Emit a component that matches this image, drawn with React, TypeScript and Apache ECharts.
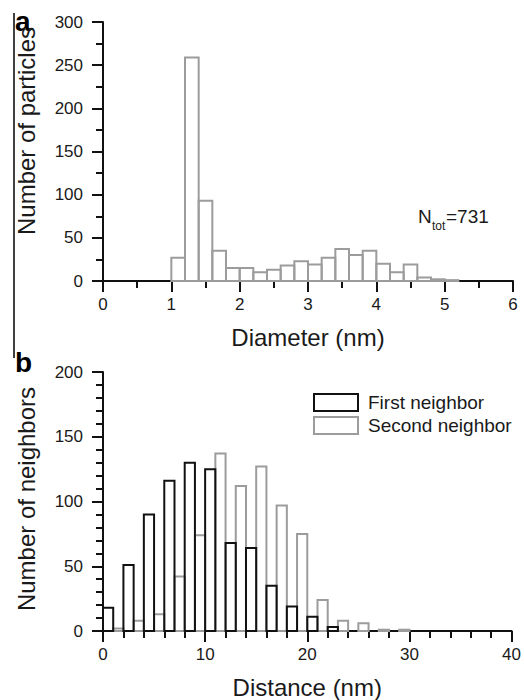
import React, { useEffect, useRef } from "react";
import * as echarts from "echarts";

// ---- Data ----
// Panel a: particle diameter histogram (bin width 0.2 nm)
const diameterBinWidth = 0.2;
const diameterBinStart = [1.0, 1.2, 1.4, 1.6, 1.8, 2.0, 2.2, 2.4, 2.6, 2.8, 3.0, 3.2, 3.4, 3.6, 3.8, 4.0, 4.2, 4.4, 4.6, 4.8, 5.0];
const diameterCounts = [27, 259, 93, 35, 15, 15, 10, 13, 18, 23, 19, 27, 37, 30, 35, 20, 10, 19, 4, 2, 1];

// Panel b: neighbor distance histograms (bin width 1 nm each)
const distanceBinWidth = 1;
const firstNeighborStart = [0, 2, 4, 6, 8, 10, 12, 14, 16, 18, 20, 22];
const firstNeighborCounts = [18, 51, 90, 116, 130, 125, 68, 64, 35, 19, 11, 3];
const secondNeighborStart = [1, 3, 5, 7, 9, 11, 13, 15, 17, 19, 21, 23, 25, 27, 29];
const secondNeighborCounts = [2, 8, 13, 42, 74, 137, 112, 127, 97, 75, 24, 8, 6, 1, 1];

const seriesNames = ["First neighbor", "Second neighbor"];

const FONT = '"Liberation Sans", Arial, Helvetica, sans-serif';
const AXIS_COLOR = "#111";
const TEXT_COLOR = "#1a1a1a";
const BLACK_BAR = "#111";
const GRAY_BAR = "#9c9c9c";

function histData(starts: number[], counts: number[], w: number) {
  return starts.map((s, i) => [s, s + w, counts[i]]);
}

function makeRender(color: string) {
  return (params: any, api: any) => {
    const x0 = api.value(0);
    const x1 = api.value(1);
    const y = api.value(2);
    const p0 = api.coord([x0, y]);
    const p1 = api.coord([x1, 0]);
    return {
      type: "rect",
      shape: { x: p0[0], y: p0[1], width: p1[0] - p0[0], height: p1[1] - p0[1] },
      style: { fill: "none", stroke: color, lineWidth: 2 },
    };
  };
}

function valueAxis(gridIndex: number, min: number, max: number, interval: number, minorSplit: number, isX: boolean, name?: string) {
  return {
    type: "value",
    gridIndex,
    min,
    max,
    interval,
    name: name || "",
    nameLocation: "middle",
    nameGap: 44,
    nameTextStyle: { fontSize: 24, color: TEXT_COLOR, fontFamily: FONT },
    axisLine: { show: true, onZero: false, lineStyle: { color: AXIS_COLOR, width: 2 } },
    axisTick: { show: true, inside: false, length: 11, lineStyle: { color: AXIS_COLOR, width: 2 } },
    minorTick: { show: true, splitNumber: minorSplit, length: 7, lineStyle: { color: AXIS_COLOR, width: 2 } },
    axisLabel: { fontSize: 17, color: TEXT_COLOR, fontFamily: FONT, margin: isX ? 15 : 20 },
    splitLine: { show: false },
    minorSplitLine: { show: false },
  };
}

export default function App() {
  const ref = useRef<HTMLDivElement>(null);
  useEffect(() => {
    if (!ref.current) return;
    const chart = echarts.init(ref.current, null, { renderer: "svg" });
    const option: any = {
      animation: false,
      textStyle: { fontFamily: FONT },
      grid: [
        { left: 103, top: 22, width: 410, height: 259 },
        { left: 103, top: 372, width: 411, height: 260 },
      ],
      xAxis: [
        valueAxis(0, 0, 6, 1, 2, true, "Diameter (nm)"),
        valueAxis(1, 0, 40, 10, 5, true, "Distance (nm)"),
      ],
      yAxis: [
        valueAxis(0, 0, 300, 50, 2, false),
        valueAxis(1, 0, 200, 50, 5, false),
      ],
      legend: {
        show: true,
        orient: "vertical",
        left: 313,
        top: 393,
        padding: 0,
        itemWidth: 44,
        itemHeight: 17,
        itemGap: 4,
        textStyle: { fontSize: 19, color: TEXT_COLOR, fontFamily: FONT, lineHeight: 19, padding: [0, 0, 0, 5] },
        data: [
          { name: seriesNames[0], icon: "rect", itemStyle: { color: "#fff", borderColor: BLACK_BAR, borderWidth: 2 } },
          { name: seriesNames[1], icon: "rect", itemStyle: { color: "#fff", borderColor: GRAY_BAR, borderWidth: 2 } },
        ],
      },
      graphic: [
        { type: "line", shape: { x1: 14, y1: 13, x2: 14, y2: 358 }, style: { stroke: "#000", lineWidth: 1.5 } },
        { type: "text", x: 15, y: 21, style: { text: "a", font: `bold 28px ${FONT}`, fill: "#000", textAlign: "left", textVerticalAlign: "middle" } },
        { type: "text", x: 15, y: 362, style: { text: "b", font: `bold 28px ${FONT}`, fill: "#000", textAlign: "left", textVerticalAlign: "middle" } },
        { type: "text", x: 26, y: 131, rotation: Math.PI / 2, style: { text: "Number of particles", font: `24px ${FONT}`, fill: TEXT_COLOR, textAlign: "center", textVerticalAlign: "middle" } },
        { type: "text", x: 26, y: 499, rotation: Math.PI / 2, style: { text: "Number of neighbors", font: `24px ${FONT}`, fill: TEXT_COLOR, textAlign: "center", textVerticalAlign: "middle" } },
        { type: "text", x: 418, y: 216, style: { text: "N", font: `19px ${FONT}`, fill: TEXT_COLOR, textAlign: "left", textVerticalAlign: "middle" } },
        { type: "text", x: 432, y: 226, style: { text: "tot", font: `12px ${FONT}`, fill: TEXT_COLOR, textAlign: "left", textVerticalAlign: "middle" } },
        { type: "text", x: 446, y: 216, style: { text: "=731", font: `19px ${FONT}`, fill: TEXT_COLOR, textAlign: "left", textVerticalAlign: "middle" } },
      ],
      series: [
        {
          type: "custom",
          name: "Diameter",
          xAxisIndex: 0,
          yAxisIndex: 0,
          renderItem: makeRender(GRAY_BAR),
          encode: { x: [0, 1], y: 2 },
          data: histData(diameterBinStart, diameterCounts, diameterBinWidth),
        },
        {
          type: "custom",
          name: seriesNames[1],
          xAxisIndex: 1,
          yAxisIndex: 1,
          itemStyle: { color: GRAY_BAR },
          renderItem: makeRender(GRAY_BAR),
          encode: { x: [0, 1], y: 2 },
          data: histData(secondNeighborStart, secondNeighborCounts, distanceBinWidth),
        },
        {
          type: "custom",
          name: seriesNames[0],
          xAxisIndex: 1,
          yAxisIndex: 1,
          itemStyle: { color: BLACK_BAR },
          renderItem: makeRender(BLACK_BAR),
          encode: { x: [0, 1], y: 2 },
          data: histData(firstNeighborStart, firstNeighborCounts, distanceBinWidth),
        },
      ],
    };
    chart.setOption(option);
    return () => chart.dispose();
  }, []);
  return <div ref={ref} style={{ position: "absolute", left: 0, top: 0, width: 524, height: 700, background: "#fff" }} />;
}
